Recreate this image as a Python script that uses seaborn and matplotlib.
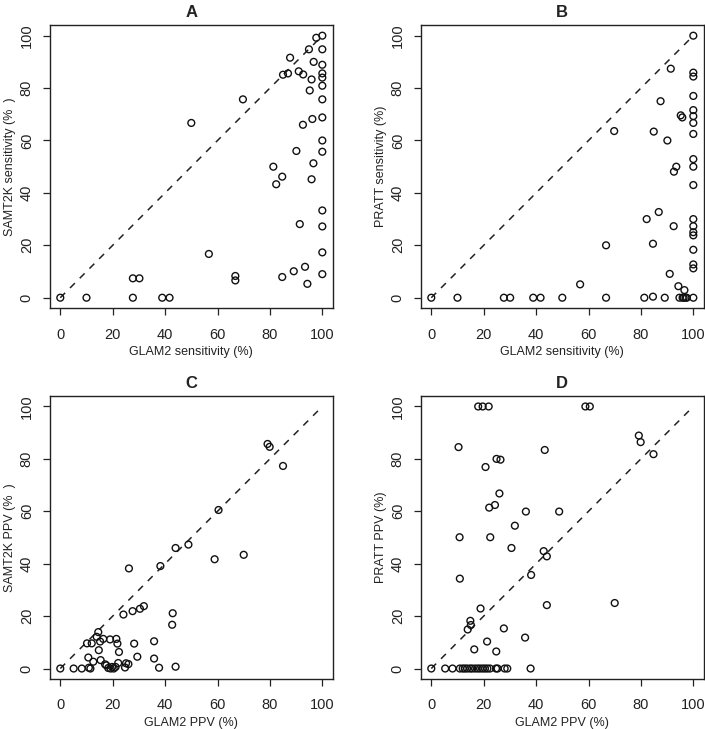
import numpy as np
import pandas as pd
import matplotlib
matplotlib.use('Agg')
import matplotlib.pyplot as plt
import seaborn as sns

# panel A: GLAM2 vs SAMT2K sensitivity (%)
glam2_sens_a = [0, 10, 27.7, 27.7, 30.2, 38.9, 41.7, 50, 56.7, 66.8, 66.8, 69.7,
                81.3, 82.4, 84.7, 84.7, 85, 86.9, 87.7, 89.1, 90.1, 91, 91.4, 92.6,
                92.7, 93.4, 94.3, 94.9, 95.2, 95.9, 95.9, 96.2, 96.6, 96.7, 97.7,
                100, 100, 100, 100, 100, 100, 100, 100, 100, 100, 100, 100, 100, 100]
samt2k_sens = [0, 0, 0, 7.4, 7.4, 0, 0, 66.7, 16.7, 8.3, 6.6, 75.7,
               50, 43.3, 46.2, 7.9, 85.1, 85.6, 91.6, 10.1, 56, 86.4, 28.1, 66,
               85.2, 11.8, 5.3, 94.8, 79.1, 83.3, 45.2, 68.2, 51.3, 90, 99.2,
               100, 94.8, 88.9, 85.6, 84, 80.9, 75.7, 68.8, 60, 55.7, 33.3, 27.2, 17.3, 9]

# panel B: GLAM2 vs PRATT sensitivity (%)
glam2_sens_b = [0, 10, 27.7, 30.1, 38.9, 41.7, 50, 56.8, 66.7, 66.7, 69.8,
                81.3, 82.2, 84.6, 84.6, 84.9, 86.8, 87.5, 89.1, 90.1, 91, 91.4,
                92.5, 92.6, 93.5, 94.3, 95.2, 95.8, 96.6, 94.7, 95.9, 96.3, 97, 97.5,
                100, 100, 100, 100, 100, 100, 100, 100, 100, 100, 100, 100, 100,
                100, 100, 100, 100, 100, 100]
pratt_sens = [0, 0, 0, 0, 0, 0, 0, 5.1, 0, 20, 63.6,
              0, 30, 0.4, 20.6, 63.4, 32.7, 75, 0, 60, 9.1, 87.4,
              27.3, 48.1, 50, 4.4, 69.6, 68.8, 2.9, 0, 0, 0, 0, 0,
              100, 85.9, 84.4, 77, 71.6, 69.3, 66.7, 62.5, 52.9, 50, 43, 30, 27.3,
              25, 23.8, 18.3, 12.7, 11.2, 0]

# panel C: GLAM2 vs SAMT2K PPV (%)
glam2_ppv_c = [0, 5.1, 8.2, 10.2, 10.7, 10.9, 11.5, 12, 12.6, 13.9, 14.5, 14.7,
               15.2, 15.4, 16.4, 17.1, 17.6, 18.3, 19, 19.2, 19.8, 20.4, 21.1, 21.4,
               21.8, 22.1, 22.4, 24.1, 24.7, 25.1, 26, 26.2, 27.6, 28.2, 29.4, 30.4,
               31.9, 35.8, 35.8, 37.7, 38.2, 42.7, 42.9, 44, 44, 48.9, 58.9, 60.4,
               70, 79.1, 79.9, 85]
samt2k_ppv = [0, 0, 0, 9.6, 4.2, 0.3, 0, 9.6, 2.6, 12.1, 13.9, 7,
              10.3, 3.2, 11.3, 1.6, 1.2, 0.2, 11.1, 0, 0.6, 0, 0.6, 11.3,
              9.5, 2.1, 6.3, 20.6, 0.4, 2.0, 1.7, 38.2, 21.9, 9.5, 4.5, 22.8,
              23.8, 10.4, 3.8, 0.3, 39.1, 16.7, 21.1, 46, 0.7, 47.3, 41.7, 60.5,
              43.4, 85.7, 84.6, 77.3]

# panel D: GLAM2 vs PRATT PPV (%)
glam2_ppv_d = [0, 5.3, 8.1, 10.4, 10.8, 10.9, 10.9, 12, 12.8, 13.7, 13.9,
               14.8, 14.9, 15.1, 15.6, 16.4, 16.7, 17.7, 17.9, 18.6, 18.8,
               19.6, 19.6, 20.5, 20.7, 21.3, 21.4, 21.9, 22.1, 22.4, 22.5,
               24.3, 24.7, 24.8, 24.9, 25.3, 26, 26.4, 27.7, 28, 29,
               30.6, 31.9, 35.8, 36.1, 37.9, 38.1, 42.9, 43.3, 44.1, 44.1,
               48.8, 58.8, 60.5, 70, 79.2, 79.9, 84.8]
pratt_ppv = [0, 0, 0, 84.5, 50.1, 34.3, 0, 0, 0, 0, 14.9,
             0, 18.2, 16.6, 0, 7.3, 0, 0, 100, 0, 22.9,
             100, 0, 0, 76.9, 10.3, 0, 100, 61.4, 0, 50.1,
             62.4, 0, 6.5, 80, 0, 66.8, 79.7, 15.3, 0, 0,
             46, 54.5, 11.8, 59.9, 0, 35.7, 44.8, 83.4, 42.8, 24.2,
             59.9, 100, 100, 25, 88.9, 86.4, 81.8]

diag = [0, 100]
ticks = [0, 20, 40, 60, 80, 100]

panels = [
    ('A', glam2_sens_a, samt2k_sens, 'GLAM2 sensitivity (%)', 'SAMT2K sensitivity (%  )'),
    ('B', glam2_sens_b, pratt_sens, 'GLAM2 sensitivity (%)', 'PRATT sensitivity (%)'),
    ('C', glam2_ppv_c, samt2k_ppv, 'GLAM2 PPV (%)', 'SAMT2K PPV (%  )'),
    ('D', glam2_ppv_d, pratt_ppv, 'GLAM2 PPV (%)', 'PRATT PPV (%)'),
]

sns.set_style('ticks')
plt.rcParams['font.family'] = ['Liberation Sans', 'DejaVu Sans']
txt = '#222222'

W, H = 705, 729
fig = plt.figure(figsize=(W / 100, H / 100), dpi=100)
# axes boxes in pixels: left, top
boxes = [(49.8, 25.2), (420.8, 25.2), (49.8, 396.0), (420.8, 396.0)]
size = 283

for (name, x, y, xl, yl), (left, top) in zip(panels, boxes):
    ax = fig.add_axes([left / W, 1 - (top + size) / H, size / W, size / H])
    df = pd.DataFrame({'x': x, 'y': y})
    sns.lineplot(x=diag, y=diag, ax=ax, color='#222222', lw=1.1,
                 linestyle=(0, (4.5, 4.5)))
    sns.scatterplot(data=df, x='x', y='y', ax=ax, marker='o', s=24,
                    color='black', facecolor='none', edgecolor='#111111',
                    linewidth=1.0, zorder=3)
    ax.set_xlim(-4, 104)
    ax.set_ylim(-4, 104)
    ax.set_xticks(ticks)
    ax.set_yticks(ticks)
    ax.tick_params(length=5, width=0.9, colors=txt, labelsize=10.5)
    ax.tick_params(axis='x', pad=9)
    ax.tick_params(axis='y', pad=6.5)
    for lab in ax.get_yticklabels():
        lab.set_rotation(90)
        lab.set_va('center')
    for sp in ax.spines.values():
        sp.set_visible(True)
        sp.set_color('#222222')
        sp.set_linewidth(1.0)
    ax.set_xlabel(xl, fontsize=9, color=txt, labelpad=3)
    ax.set_ylabel(yl, fontsize=9, color=txt, labelpad=3)
    ax.set_title(name, fontsize=12, fontweight='bold', color=txt, pad=6)

fig.savefig('out.png', dpi=100)
